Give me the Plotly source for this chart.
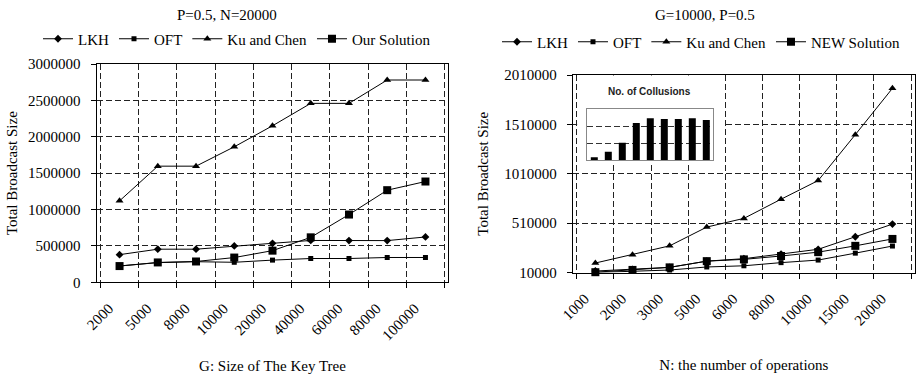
import plotly.graph_objects as go

# ---------------- data ----------------
G_labels = ["2000", "5000", "8000", "10000", "20000", "40000", "60000", "80000", "100000"]
LKH_G = [380000, 455000, 455000, 500000, 536000, 575000, 573000, 573000, 623000]
OFT_G = [225000, 270000, 283000, 275000, 305000, 327000, 327000, 341000, 341000]
Ku_G = [1119000, 1596000, 1596000, 1862000, 2151000, 2459000, 2459000, 2780000, 2780000]
Our_G = [223000, 273000, 286000, 340000, 435000, 618000, 931000, 1266000, 1385000]

N_labels = ["1000", "2000", "3000", "5000", "6000", "8000", "10000", "15000", "20000"]
LKH_N = [25000, 42000, 62000, 125000, 150000, 197000, 245000, 372000, 500000]
OFT_N = [10000, 23000, 35000, 66000, 78000, 110000, 136000, 206000, 278000]
Ku_N = [106000, 190000, 280000, 470000, 558000, 752000, 941000, 1406000, 1875000]
NEW_N = [13000, 36000, 62000, 125000, 143000, 177000, 216000, 280000, 350000]

Collusions = [9, 25, 51, 109, 123, 121, 121, 123, 118]

Y1_TICKS = [0, 500000, 1000000, 1500000, 2000000, 2500000, 3000000]
Y2_TICKS = [10000, 510000, 1010000, 1510000, 2010000]
Y1_RANGE = [Y1_TICKS[0], Y1_TICKS[-1]]
Y2_RANGE = [Y2_TICKS[0], Y2_TICKS[-1]]

SERIF = "Liberation Serif"
W, H = 916, 374

def pad(n):
    # invisible padding so the labels sit further from the axis
    return '<span style="color:rgba(0,0,0,0)">' + "0" * n + "</span>"

def px_x(p):
    return p / W

def px_y(p):
    return 1 - p / H

fig = go.Figure()

def add_line(x, y, name, symbol, size, xa, ya, legend):
    fig.add_trace(go.Scatter(
        x=x, y=y, name=name, mode="lines+markers",
        line=dict(color="black", width=1),
        marker=dict(symbol=symbol, size=size, color="black"),
        xaxis=xa, yaxis=ya, legend=legend, cliponaxis=False,
    ))

add_line(G_labels, LKH_G, "LKH", "diamond", 6, "x", "y", "legend")
add_line(G_labels, OFT_G, "OFT", "square", 5, "x", "y", "legend")
add_line(G_labels, Ku_G, "Ku and Chen", "triangle-up", 7, "x", "y", "legend")
add_line(G_labels, Our_G, "Our Solution", "square", 8, "x", "y", "legend")

add_line(N_labels, LKH_N, "LKH", "diamond", 6, "x2", "y2", "legend2")
add_line(N_labels, OFT_N, "OFT", "square", 5, "x2", "y2", "legend2")
add_line(N_labels, Ku_N, "Ku and Chen", "triangle-up", 7, "x2", "y2", "legend2")
add_line(N_labels, NEW_N, "NEW Solution", "square", 8, "x2", "y2", "legend2")

fig.add_trace(go.Bar(
    x=N_labels, y=Collusions, marker=dict(color="black", line=dict(width=0)),
    xaxis="x3", yaxis="y3", showlegend=False, width=0.5,
))

tickfont = dict(family=SERIF, size=15, color="black")
GRID = dict(showgrid=True, gridcolor="#222", griddash="6px,3px", gridwidth=1)

common_x = dict(
    type="category", tickson="boundaries", ticks="outside", ticklen=5,
    tickcolor="black", tickangle=-45, tickfont=tickfont,
    showline=True, linecolor="black", linewidth=1, mirror=True,
    zeroline=False, fixedrange=True, **GRID,
)
common_y = dict(
    ticks="outside", ticklen=5, tickcolor="black", tickfont=tickfont,
    showline=True, linecolor="black", linewidth=1, mirror=True,
    zeroline=False, **GRID,
)

# white backing behind the inset (hides the main grid there)
inset_x1 = 3.45
inset_y0 = Y2_RANGE[0] + (272.5 - 162) / (272.5 - 75) * (Y2_RANGE[1] - Y2_RANGE[0])

fig.update_layout(
    width=W, height=H,
    margin=dict(l=0, r=0, t=0, b=0, autoexpand=False),
    paper_bgcolor="white", plot_bgcolor="white",
    font=dict(family=SERIF, size=15, color="black"),
    xaxis=dict(common_x, domain=[px_x(97), px_x(448)], anchor="y",
               tickmode="array", tickvals=G_labels,
               ticktext=[g + pad(2) for g in G_labels],
               title=dict(text="G: Size of The Key Tree", font=tickfont, standoff=18)),
    yaxis=dict(common_y, domain=[px_y(282.3), px_y(64)], anchor="x",
               range=Y1_RANGE, tickmode="array", tickvals=Y1_TICKS,
               ticktext=[f"{v}" + pad(1) for v in Y1_TICKS],
               title=dict(text="Total Broadcast Size", font=tickfont, standoff=6)),
    xaxis2=dict(common_x, domain=[px_x(573.3), px_x(914.5)], anchor="y2",
                tickmode="array", tickvals=N_labels,
                ticktext=[n + pad(2) for n in N_labels],
                title=dict(text="N: the number of operations", font=tickfont, standoff=31)),
    yaxis2=dict(common_y, domain=[px_y(272.5), px_y(75)], anchor="x2",
                range=Y2_RANGE, tickmode="array", tickvals=Y2_TICKS,
                ticktext=[f"{v}" + pad(1) for v in Y2_TICKS],
                title=dict(text="Total Broadcast Size", font=tickfont, standoff=12)),
    xaxis3=dict(type="category", domain=[px_x(587.3), px_x(713.3)], anchor="y3",
                showticklabels=False, ticks="", showgrid=False,
                showline=True, linecolor="#888", linewidth=1, mirror=True,
                zeroline=False),
    yaxis3=dict(domain=[px_y(160.3), px_y(109)], anchor="x3",
                range=[0, 150], dtick=50, showticklabels=False, ticks="",
                showgrid=True, gridcolor="#333", griddash="6px,3px", gridwidth=1,
                showline=True, linecolor="#888", linewidth=1, mirror=True,
                zeroline=False),
    bargap=0.5,
    legend=dict(orientation="h", x=px_x(237), xanchor="center",
                y=px_y(39), yanchor="middle", font=dict(family=SERIF, size=15),
                bgcolor="rgba(0,0,0,0)", itemclick=False),
    legend2=dict(orientation="h", x=px_x(701), xanchor="center",
                 y=px_y(42), yanchor="middle", font=dict(family=SERIF, size=15),
                 bgcolor="rgba(0,0,0,0)", itemclick=False),
    showlegend=True,
    annotations=[
        dict(text="P=0.5, N=20000", x=px_x(227), y=px_y(15), xref="paper", yref="paper",
             xanchor="center", yanchor="middle",
             showarrow=False, font=dict(family=SERIF, size=15)),
        dict(text="G=10000, P=0.5", x=px_x(705), y=px_y(15), xref="paper", yref="paper",
             xanchor="center", yanchor="middle",
             showarrow=False, font=dict(family=SERIF, size=15)),
        dict(text="<b>No. of Collusions</b>", x=px_x(649), y=px_y(91.5), xref="paper", yref="paper",
             xanchor="center", yanchor="middle",
             showarrow=False, font=dict(family="Liberation Sans", size=10, color="#222")),
    ],
    shapes=[
        dict(type="rect", xref="x2", yref="y2", layer="between",
             x0=-0.49, x1=inset_x1, y0=inset_y0, y1=Y2_RANGE[1] - 4000,
             fillcolor="white", line=dict(width=0)),
    ],
)

fig.write_html(
    "out.html",
    config={"displayModeBar": False},
    post_script="document.body.style.margin='0';document.body.style.overflow='hidden';",
)
